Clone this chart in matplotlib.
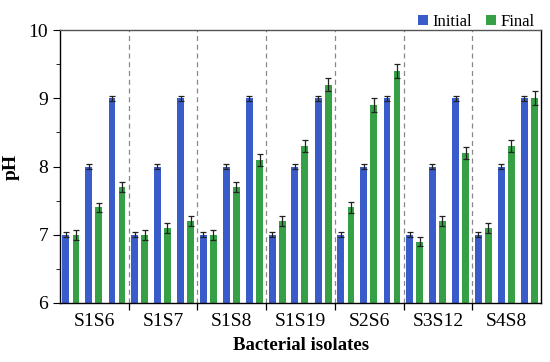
import matplotlib
matplotlib.use("Agg")
import matplotlib.pyplot as plt
import numpy as np

isolates = ["S1S6", "S1S7", "S1S8", "S1S19", "S2S6", "S3S12", "S4S8"]
initial_ph = [
    [7.0, 8.0, 9.0],
    [7.0, 8.0, 9.0],
    [7.0, 8.0, 9.0],
    [7.0, 8.0, 9.0],
    [7.0, 8.0, 9.0],
    [7.0, 8.0, 9.0],
    [7.0, 8.0, 9.0],
]
final_ph = [
    [7.0, 7.4, 7.7],
    [7.0, 7.1, 7.2],
    [7.0, 7.7, 8.1],
    [7.2, 8.3, 9.2],
    [7.4, 8.9, 9.4],
    [6.9, 7.2, 8.2],
    [7.1, 8.3, 9.0],
]
initial_err = [
    [0.04, 0.04, 0.04],
    [0.04, 0.04, 0.04],
    [0.04, 0.04, 0.04],
    [0.04, 0.04, 0.04],
    [0.04, 0.04, 0.04],
    [0.04, 0.04, 0.04],
    [0.04, 0.04, 0.04],
]
final_err = [
    [0.07, 0.07, 0.08],
    [0.07, 0.07, 0.07],
    [0.07, 0.08, 0.09],
    [0.07, 0.09, 0.10],
    [0.08, 0.10, 0.10],
    [0.07, 0.07, 0.09],
    [0.07, 0.09, 0.10],
]

blue = "#3A5CCB"
green = "#35A046"

plt.rcParams["font.family"] = ["Liberation Serif", "DejaVu Serif"]

fig = plt.figure(figsize=(5.5, 3.62), dpi=100)
ax = fig.add_axes([0.109, 0.163, 0.875, 0.754])

pair_off = np.array([-0.34, -0.01, 0.33])
d = 0.073
w = 0.1
err_kw = dict(ecolor="#222222", elinewidth=0.9, capsize=2.5, capthick=0.9)

for i in range(len(isolates)):
    xs = i + pair_off
    ax.bar(xs - d, initial_ph[i], w, yerr=initial_err[i], color=blue,
           error_kw=err_kw, label="Initial" if i == 0 else None, zorder=2)
    ax.bar(xs + d, final_ph[i], w, yerr=final_err[i], color=green,
           error_kw=err_kw, label="Final" if i == 0 else None, zorder=2)

for b in np.arange(0.5, len(isolates) - 0.5, 1.0):
    ax.axvline(b, color="#888888", linestyle=(0, (4, 3)), linewidth=0.9, zorder=1)

ax.set_xlim(-0.5, len(isolates) - 0.5)
ax.set_ylim(6, 10)
ax.set_xticks(range(len(isolates)))
ax.set_xticklabels(isolates, fontsize=14)
ax.set_xticks(np.arange(0.5, len(isolates) - 0.5, 1.0), minor=True)
ax.tick_params(axis="x", which="major", length=0, pad=7)
ax.tick_params(axis="x", which="minor", length=5, direction="out", width=0.9)
ax.set_yticks([6, 7, 8, 9, 10])
ax.set_yticks([6.5, 7.5, 8.5, 9.5], minor=True)
ax.tick_params(axis="y", which="major", labelsize=14, length=5, direction="out")
ax.tick_params(axis="y", which="minor", length=3, direction="out")

for s in ax.spines.values():
    s.set_linewidth(1.0)
ax.spines["top"].set_color("#555555")

ax.set_xlabel("Bacterial isolates", fontsize=13.5, fontweight="bold", labelpad=5)
ax.set_ylabel("pH", fontsize=14, fontweight="bold", labelpad=6)

ax.legend(loc="lower right", bbox_to_anchor=(0.99, 0.995), ncol=2, frameon=False,
          fontsize=12, handlelength=0.6, handleheight=0.6, handletextpad=0.3,
          columnspacing=0.8, borderaxespad=0.0, borderpad=0.1)

fig.savefig("out.png", dpi=100)
